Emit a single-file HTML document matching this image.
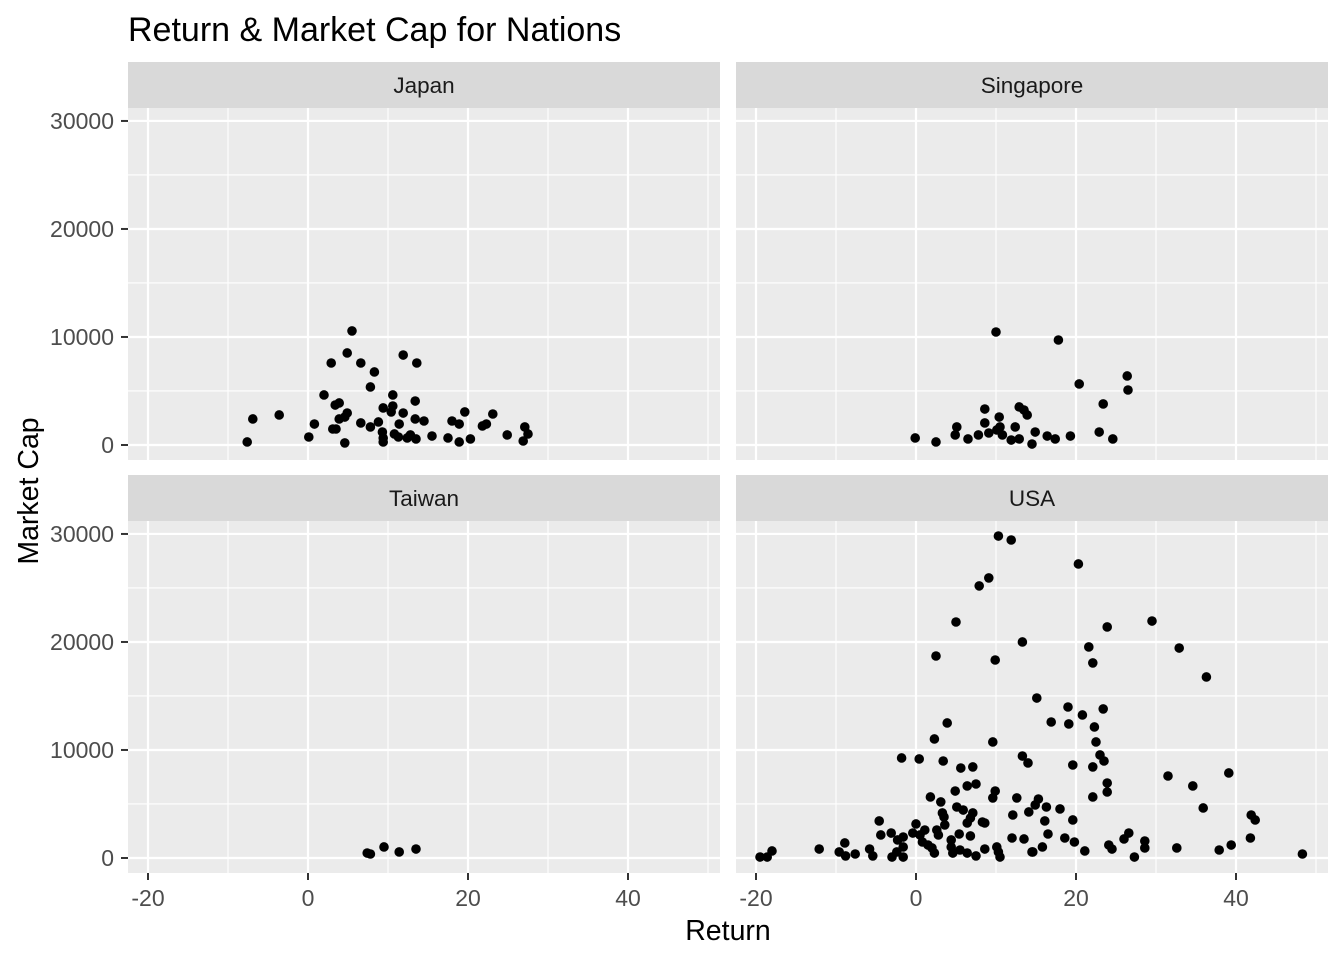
<!DOCTYPE html>
<html><head><meta charset="utf-8"><style>
html,body{margin:0;padding:0;background:#fff;}
svg text{font-family:"Liberation Sans",Arial,sans-serif;}
</style></head><body>
<svg id="chart" width="1344" height="960" xmlns="http://www.w3.org/2000/svg">
<rect width="1344" height="960" fill="#fff"/>
<text x="128" y="41" font-size="34" fill="#000">Return &amp; Market Cap for Nations</text>
<text x="728" y="940" font-size="28.5" text-anchor="middle" fill="#000">Return</text>
<text transform="translate(38,491) rotate(-90)" font-size="28.5" text-anchor="middle" fill="#000">Market Cap</text>
</svg>
<script>
const panels = ["Japan","Singapore","Taiwan","USA"];
const xTicks = [-20,0,20,40];
const yTicks = [0,10000,20000,30000];
const japanRet = [5.5,4.9,2.9,6.6,8.3,7.8,11.9,13.6,2.0,10.6,13.4,3.4,3.9,9.4,10.6,10.4,11.9,4.9,4.6,3.9,-6.9,-3.6,0.8,6.6,7.8,8.8,11.4,13.4,14.5,18.0,18.9,19.6,23.1,21.8,22.3,27.1,27.5,26.9,24.9,3.1,3.5,0.1,4.6,-7.6,9.3,9.4,9.4,10.8,11.3,12.4,12.8,13.5,15.5,17.5,18.9,20.3];
const japanCap = [10560,8520,7590,7590,6760,5370,8330,7590,4630,4630,4070,3700,3890,3430,3610,3060,2960,2960,2590,2410,2410,2780,1940,2040,1670,2130,1940,2410,2220,2220,1940,3060,2870,1760,1940,1670,1020,370,930,1480,1480,740,190,280,1200,650,280,1020,740,650,930,560,830,650,280,560];
const singRet = [10.0,17.8,26.4,26.5,20.4,23.4,8.6,12.9,13.5,13.9,10.4,8.6,5.1,12.4,10.5,10.1,9.1,4.9,7.8,10.8,14.9,16.4,19.3,22.9,-0.1,2.5,6.5,11.9,12.9,14.5,17.4,24.6];
const singCap = [10460,9720,6390,5090,5650,3800,3330,3520,3240,2780,2590,2040,1670,1670,1670,1390,1110,930,930,930,1200,830,830,1200,650,280,560,460,560,90,560,560];
const taiRet = [7.4,7.8,9.5,11.4,13.5];
const taiCap = [460,370,1020,560,830];
const usaRet = [10.3,11.9,20.3,9.1,7.9,23.9,5.0,29.5,13.3,2.5,21.6,32.9,9.9,22.1,36.3,15.1,19.0,20.8,23.4,16.9,19.1,22.3,22.5,13.3,14.0,19.6,22.1,23.0,23.5,31.5,34.6,39.1,23.9,23.9,22.1,15.3,14.9,14.1,16.3,18.0,16.1,19.6,35.9,41.9,42.4,16.5,13.5,18.6,19.8,15.8,14.6,21.1,24.1,24.5,26.0,26.6,28.6,28.6,27.3,32.6,37.9,39.4,41.8,48.3,3.9,2.3,9.6,-1.8,0.4,3.4,5.6,7.1,4.9,6.4,7.5,9.9,9.6,12.6,1.8,3.1,5.1,5.9,7.1,6.8,6.4,3.3,3.5,12.1,-4.6,0.0,3.6,8.3,8.6,-4.4,-3.1,-1.6,-2.3,-0.4,0.5,1.1,2.6,2.8,0.8,1.5,5.4,6.8,4.4,4.4,12.0,-1.6,-2.4,-3.0,-1.6,2.0,2.3,4.6,5.5,6.4,7.5,8.6,10.1,10.3,10.5,14.5,-5.8,-5.4,-7.6,-9.6,-8.8,-8.9,-12.1,-19.5,-18.6,-18.0];
const usaCap = [29810,29440,27220,25930,25190,21390,21850,21940,20000,18700,19540,19440,18330,18060,16760,14810,13980,13240,13800,12590,12410,12130,10740,9440,8800,8610,8430,9540,8980,7590,6670,7870,6940,6110,5650,5460,4910,4260,4720,4540,3430,3520,4630,3980,3520,2220,1760,1850,1480,1020,560,650,1200,830,1760,2310,1570,930,90,930,740,1200,1850,370,12500,11020,10740,9260,9170,8980,8330,8430,6200,6670,6850,6200,5560,5560,5650,5190,4720,4440,4170,3700,3240,4170,3800,3980,3430,3150,3060,3330,3240,2130,2310,1940,1670,2310,2130,2590,2590,2130,1480,1200,2220,2040,1670,1020,1850,1020,560,90,90,930,460,460,740,460,190,830,1020,560,90,560,830,190,370,560,190,1390,830,90,90,650];

const NS="http://www.w3.org/2000/svg";
const svg=document.getElementById('chart');
const XMIN=-22.5, XMAX=51.5, YMIN=-1390, YMAX=31200, PW=592, PH=352;
const lefts=[128,736], tops=[108,521];
function mk(t,a){const e=document.createElementNS(NS,t);for(const k in a)e.setAttribute(k,a[k]);return e;}
const series=[[japanRet,japanCap],[singRet,singCap],[taiRet,taiCap],[usaRet,usaCap]];
panels.forEach((name,i)=>{
  const col=i%2,row=Math.floor(i/2);
  const L=lefts[col],T=tops[row];
  const sx=v=>L+(v-XMIN)/(XMAX-XMIN)*PW;
  const sy=v=>T+PH-(v-YMIN)/(YMAX-YMIN)*PH;
  const g=mk('g',{});
  
  
  svg.appendChild(g);
  const strip=mk('rect',{x:L,y:T-46,width:PW,height:46,fill:'#d9d9d9'});
  
  
  g.appendChild(strip);
  const st=mk('text',{x:L+PW/2,y:T-15,'font-size':22.5,'text-anchor':'middle',fill:'#1a1a1a'});
  st.textContent=name;
  
  
  g.appendChild(st);
  const bg=mk('rect',{x:L,y:T,width:PW,height:PH,fill:'#ebebeb'});
  
  
  g.appendChild(bg);
  for(let k=0;k<xTicks.length;k++){const v=xTicks[k]+10;if(v<XMAX)g.appendChild(mk('line',{x1:sx(v),x2:sx(v),y1:T,y2:T+PH,stroke:'#fff','stroke-width':1.1}));}
  for(let k=0;k<yTicks.length;k++){const v=yTicks[k]+5000;if(v<YMAX)g.appendChild(mk('line',{x1:L,x2:L+PW,y1:sy(v),y2:sy(v),stroke:'#fff','stroke-width':1.1}));}
  xTicks.forEach(v=>g.appendChild(mk('line',{x1:sx(v),x2:sx(v),y1:T,y2:T+PH,stroke:'#fff','stroke-width':2.2})));
  yTicks.forEach(v=>g.appendChild(mk('line',{x1:L,x2:L+PW,y1:sy(v),y2:sy(v),stroke:'#fff','stroke-width':2.2})));
  const [xs,ys]=series[i];
  xs.forEach((xv,j)=>{
    const c=mk('circle',{cx:sx(xv),cy:sy(ys[j]),r:4.8,fill:'#000'});
    
    
    g.appendChild(c);
  });
  if(col===0){
    yTicks.forEach(v=>{
      g.appendChild(mk('line',{x1:L-7,x2:L,y1:sy(v),y2:sy(v),stroke:'#333','stroke-width':2}));
      const t=mk('text',{x:L-14,y:sy(v)+8,'font-size':23,'text-anchor':'end',fill:'#4d4d4d'});
      t.textContent=v;
      
      
      g.appendChild(t);
    });
  }
  if(row===1){
    xTicks.forEach(v=>{
      g.appendChild(mk('line',{x1:sx(v),x2:sx(v),y1:T+PH,y2:T+PH+7,stroke:'#333','stroke-width':2}));
      const t=mk('text',{x:sx(v),y:T+PH+33,'font-size':23,'text-anchor':'middle',fill:'#4d4d4d'});
      t.textContent=v;
      
      
      g.appendChild(t);
    });
  }
});
</script>
</body></html>
